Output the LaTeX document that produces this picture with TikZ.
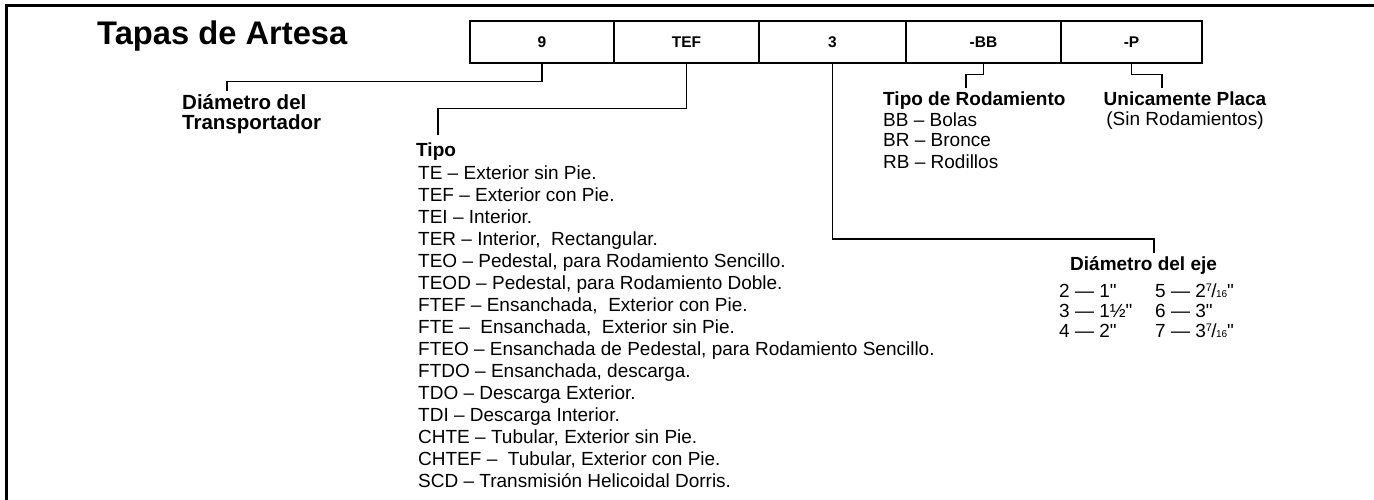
\documentclass[tikz,border=0pt]{standalone}
\usepackage{fontspec}
\setmainfont[Ligatures=TeXOff]{Liberation Sans}
\usepackage{tikz}
\usetikzlibrary{positioning,calc}
\newcommand{\frsixteen}[1]{\raisebox{0.5ex}{\fontsize{11}{11}\selectfont #1}\kern-0.6pt/\kern-0.6pt{\fontsize{10}{10}\selectfont 16}}
\tikzset{
  cell/.style={draw, line width=1.6pt, minimum height=42pt, inner sep=0pt,
              text height=11pt, text depth=0pt, font=\fontsize{15.5}{18}\selectfont\bfseries},
  link/.style={draw, line width=1.4pt},
  head/.style={font=\fontsize{19}{22}\selectfont\bfseries, inner sep=0pt, anchor=base west},
  entries/.style={font=\fontsize{19}{22}\selectfont, align=left, inner sep=0pt, anchor=base west},
}

\begin{document}
\begin{tikzpicture}[x=1pt, y=-1pt]
  \useasboundingbox (0,0) rectangle (1374,500);
  % frame
  \draw[line width=3pt] (6,500) -- (6,5.5) -- (1374,5.5);
  \node[font=\fontsize{32.7}{36}\selectfont\bfseries, inner sep=0pt, anchor=base west] (title) at (97,45) {Tapas de Artesa};
  % code cells
  \node[cell, minimum width=144pt] (c9)   at (542,42)    {9};
  \node[cell, minimum width=145pt] (cTEF) at (686.5,42)  {TEF};
  \node[cell, minimum width=147pt] (c3)   at (832.5,42)  {3};
  \node[cell, minimum width=155pt] (cBB)  at (983.5,42)  {-BB};
  \node[cell, minimum width=141pt] (cP)   at (1131.5,42) {-P};
  % labels (multi-line nodes sit on their last baseline)
  \node[head, font=\fontsize{20.5}{20}\selectfont\bfseries, align=left] (dtr) at (182,130) {Diámetro del\\Transportador};
  \node[head] (tipo) at (416,157) {Tipo};
  \node[entries] (tipos) at (418,487) {TE – Exterior sin Pie.\\
    TEF – Exterior con Pie.\\
    TEI – Interior.\\
    TER – Interior,\ \ Rectangular.\\
    TEO – Pedestal, para Rodamiento Sencillo.\\
    TEOD – Pedestal, para Rodamiento Doble.\\
    FTEF – Ensanchada,\ \ Exterior con Pie.\\
    FTE –\ \ Ensanchada,\ \ Exterior sin Pie.\\
    FTEO – Ensanchada de Pedestal, para Rodamiento Sencillo.\\
    FTDO – Ensanchada, descarga.\\
    TDO – Descarga Exterior.\\
    TDI – Descarga Interior.\\
    CHTE – Tubular, Exterior sin Pie.\\
    CHTEF –\ \ Tubular, Exterior con Pie.\\
    SCD – Transmisión Helicoidal Dorris.};
  \node[head] (rod) at (883,106) {Tipo de Rodamiento};
  \node[entries, font=\fontsize{19}{21}\selectfont] (rods) at (883,168) {BB – Bolas\\BR – Bronce\\RB – Rodillos};
  \node[head, anchor=base] (placa) at (1185,106) {Unicamente Placa};
  \node[entries, anchor=base] (sinrod) at (1185,126) {(Sin Rodamientos)};
  \node[head] (eje) at (1070,270) {Diámetro del eje};
  \node[entries, font=\fontsize{19}{20}\selectfont] (ejea) at (1059,337) {2 — 1"\\3 — 1½"\\4 — 2"};
  \node[entries, font=\fontsize{19}{20}\selectfont] (ejeb) at (1155,337) {5 — 2\frsixteen{7}"\\6 — 3"\\7 — 3\frsixteen{7}"};
  % connector ends
  \coordinate (dtrend)   at (227,91);
  \coordinate (tipoend)  at (438,135);
  \coordinate (ejeend)   at (1154,253);
  \coordinate (rodend)   at (966,88);
  \coordinate (placaend) at (1162,88);
  % connectors
  \draw[link] (c9.south)   -- ++(0,18)  -| (dtrend);
  \draw[link] (cTEF.south) -- ++(0,45)  -| (tipoend);
  \draw[link] (c3.south)   -- ++(0,175) -| (ejeend);
  \draw[link] (cBB.south)  -- ++(0,11)  -| (rodend);
  \draw[link] (cP.south)   -- ++(0,11)  -| (placaend);
\end{tikzpicture}
\end{document}
